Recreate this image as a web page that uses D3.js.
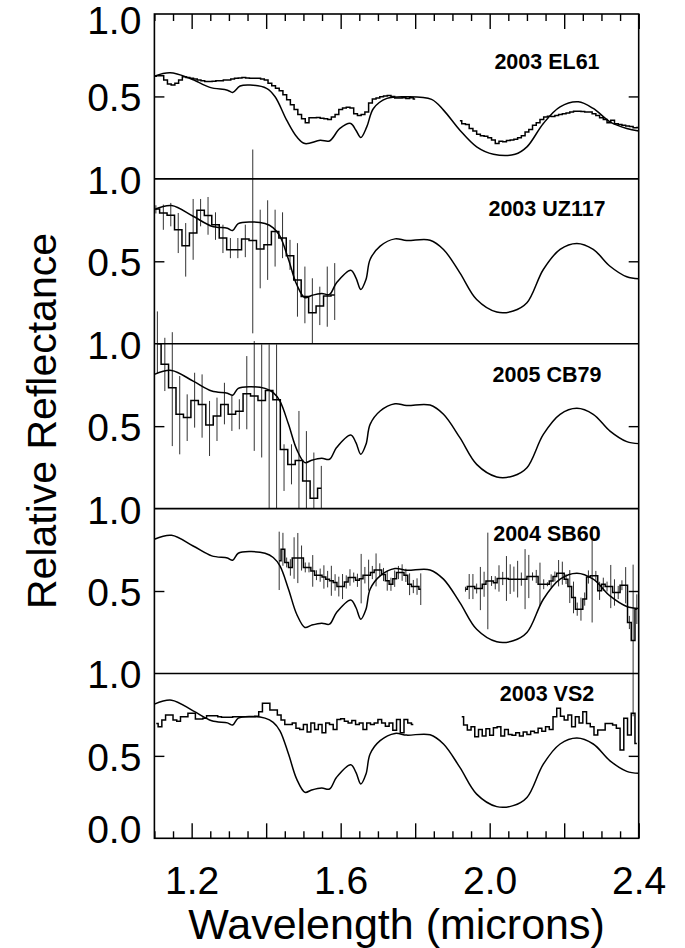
<!DOCTYPE html>
<html><head><meta charset="utf-8">
<script src="https://cdn.jsdelivr.net/npm/d3@7"></script>
<style>body{margin:0;background:#fff}svg{display:block}</style>
</head><body>
<svg id="c" width="685" height="948"></svg>
<script>
// ---------------- DATA ----------------
const panelNames = ["2003 EL61", "2003 UZ117", "2005 CB79", "2004 SB60", "2003 VS2"];
const xMajorTicks = [1.2, 1.4, 1.6, 1.8, 2.0, 2.2, 2.4];
const xMinorTicks = [1.1,1.15,1.25,1.3,1.35,1.45,1.5,1.55,1.65,1.7,1.75,1.85,1.9,1.95,2.05,2.1,2.15,2.25,2.3,2.35];
const xTickLabels = [1.2, 1.6, 2.0, 2.4];

// Model spectrum (panels 2-5)
const modelWl = [1.10,1.146,1.204,1.254,1.296,1.31,1.325,1.357,1.397,1.419,1.437,1.46,1.482,1.504,1.522,1.549,1.57,1.589,1.627,1.641,1.654,1.668,1.679,1.706,1.746,1.777,1.84,1.876,1.92,1.965,2.019,2.063,2.10,2.144,2.189,2.234,2.278,2.323,2.368,2.40];
const modelR  = [0.814,0.838,0.773,0.713,0.70,0.687,0.729,0.739,0.729,0.703,0.652,0.511,0.359,0.279,0.293,0.305,0.299,0.37,0.446,0.40,0.329,0.39,0.511,0.592,0.636,0.626,0.628,0.572,0.43,0.268,0.192,0.198,0.248,0.45,0.572,0.608,0.572,0.47,0.406,0.394];

// Model for 2003 EL61
const elModelWl = [1.10,1.142,1.196,1.249,1.296,1.31,1.33,1.357,1.401,1.424,1.455,1.482,1.504,1.545,1.57,1.598,1.627,1.641,1.654,1.67,1.688,1.724,1.777,1.844,1.876,1.92,1.965,2.01,2.068,2.10,2.144,2.189,2.238,2.278,2.323,2.368,2.40];
const elModelR  = [0.623,0.643,0.609,0.555,0.538,0.524,0.563,0.569,0.549,0.498,0.356,0.255,0.214,0.234,0.23,0.306,0.336,0.295,0.251,0.315,0.427,0.488,0.498,0.482,0.417,0.295,0.194,0.149,0.149,0.194,0.336,0.437,0.467,0.427,0.346,0.306,0.291];

// 2003 EL61 spectrum
const elWl1 = [1.10,1.11,1.12,1.13,1.14,1.15,1.16,1.17,1.18,1.19,1.20,1.21,1.22,1.23,1.24,1.25,1.26,1.27,1.28,1.29,1.30,1.31,1.32,1.33,1.34,1.35,1.36,1.37,1.38,1.39,1.40,1.41,1.42,1.43,1.44,1.45,1.46,1.47,1.48,1.49,1.50,1.51,1.52,1.53,1.54,1.55,1.56,1.57,1.58,1.59,1.60,1.61,1.62,1.63,1.64,1.65,1.66,1.67,1.68,1.69,1.70,1.71,1.72,1.73,1.74,1.75,1.76,1.77,1.78,1.79,1.80];
const elR1  = [0.623,0.625,0.625,0.60,0.575,0.57,0.58,0.60,0.62,0.615,0.61,0.605,0.60,0.595,0.59,0.59,0.592,0.595,0.595,0.60,0.60,0.605,0.61,0.612,0.615,0.612,0.61,0.61,0.61,0.605,0.60,0.58,0.565,0.55,0.535,0.51,0.48,0.45,0.42,0.39,0.365,0.34,0.37,0.37,0.372,0.368,0.365,0.36,0.375,0.39,0.42,0.43,0.435,0.43,0.395,0.385,0.39,0.405,0.46,0.485,0.49,0.498,0.502,0.506,0.50,0.49,0.49,0.492,0.488,0.492,0.485];
const elWl2 = [1.92,1.93,1.94,1.95,1.96,1.97,1.98,1.99,2.00,2.01,2.02,2.03,2.04,2.05,2.06,2.07,2.08,2.09,2.10,2.11,2.12,2.13,2.14,2.15,2.16,2.17,2.18,2.19,2.20,2.21,2.22,2.23,2.24,2.25,2.26,2.27,2.28,2.29,2.30,2.31,2.32,2.33,2.34,2.35,2.36,2.37,2.38,2.39,2.40];
const elR2  = [0.352,0.335,0.33,0.305,0.29,0.27,0.262,0.258,0.25,0.236,0.215,0.228,0.225,0.232,0.235,0.24,0.25,0.262,0.285,0.30,0.325,0.34,0.36,0.375,0.38,0.378,0.385,0.39,0.395,0.40,0.405,0.41,0.41,0.408,0.405,0.405,0.395,0.385,0.37,0.36,0.34,0.355,0.335,0.33,0.325,0.32,0.318,0.31,0.312];

// 2003 UZ117 spectrum with error bar ends
const uzWl = [1.104,1.124,1.144,1.164,1.184,1.204,1.224,1.244,1.264,1.284,1.304,1.324,1.344,1.364,1.384,1.404,1.424,1.444,1.464,1.484,1.504,1.524,1.544,1.564,1.584];
const uzR  = [0.817,0.793,0.78,0.691,0.594,0.671,0.809,0.778,0.722,0.641,0.57,0.57,0.635,0.626,0.574,0.60,0.681,0.641,0.533,0.387,0.286,0.188,0.229,0.29,0.296];
const uzLo = [0.79,0.691,0.712,0.55,0.407,0.509,0.712,0.661,0.63,0.55,0.519,0.519,0.525,0.063,0.336,0.387,0.468,0.519,0.448,0.164,0.124,0.0,0.113,0.103,0.144];
const uzHi = [0.84,0.844,0.854,0.793,0.732,0.878,0.878,0.89,0.797,0.722,0.641,0.641,0.722,1.178,0.813,0.87,0.813,0.797,0.63,0.61,0.468,0.397,0.346,0.468,0.489];

// 2005 CB79 spectrum with error bar ends
const cbWl = [1.108,1.128,1.148,1.168,1.188,1.208,1.228,1.248,1.268,1.288,1.308,1.328,1.348,1.368,1.388,1.408,1.428,1.448,1.468,1.488,1.508,1.528,1.548];
const cbR  = [1.0,0.875,0.733,0.572,0.552,0.656,0.632,0.507,0.562,0.632,0.572,0.59,0.697,0.683,0.656,0.717,0.66,0.359,0.268,0.292,0.168,0.063,0.123];
const cbLo = [0.82,0.713,0.379,0.329,0.41,0.491,0.43,0.319,0.41,0.511,0.471,0.481,0.481,0.35,0.31,0.0,0.0,0.107,0.147,0.0,0.0,0.0,0.0];
const cbHi = [1.196,1.036,1.07,0.804,0.693,0.824,0.814,0.653,0.673,0.763,0.683,0.663,0.925,1.016,0.996,0.996,0.996,0.39,0.39,0.592,0.47,0.34,0.259];

// 2004 SB60 spectrum (values and 1-sigma errors)
const sbWl1 = [1.435,1.445,1.455,1.465,1.475,1.485,1.495,1.505,1.515,1.525,1.535,1.545,1.555,1.565,1.575,1.585,1.595,1.605,1.615,1.625,1.635,1.645,1.655,1.665,1.675,1.685,1.695,1.705,1.715,1.725,1.735,1.745,1.755,1.765,1.775,1.785,1.795,1.805,1.815];
const sbR1  = [0.683,0.753,0.673,0.643,0.70,0.70,0.70,0.643,0.643,0.622,0.596,0.596,0.585,0.572,0.562,0.552,0.527,0.527,0.555,0.582,0.582,0.565,0.575,0.596,0.596,0.612,0.628,0.628,0.60,0.562,0.541,0.575,0.612,0.612,0.595,0.541,0.527,0.527,0.511];
const sbE1  = [0.177,0.10,0.03,0.05,0.126,0.152,0.076,0.03,0.03,0.096,0.03,0.04,0.071,0.05,0.091,0.05,0.06,0.076,0.04,0.05,0.03,0.04,0.15,0.05,0.094,0.04,0.10,0.04,0.04,0.06,0.04,0.05,0.04,0.05,0.04,0.066,0.04,0.05,0.096];
const sbWl2 = [1.935,1.945,1.955,1.965,1.975,1.985,1.995,2.005,2.015,2.025,2.035,2.045,2.055,2.065,2.075,2.085,2.095,2.105,2.115,2.125,2.135,2.145,2.155,2.165,2.175,2.185,2.195,2.205,2.215,2.225,2.235,2.245,2.255,2.265,2.275,2.285,2.295,2.305,2.315,2.325,2.335,2.345,2.355,2.365,2.375,2.385,2.395];
const sbR2  = [0.511,0.527,0.527,0.515,0.515,0.541,0.561,0.561,0.55,0.576,0.576,0.576,0.572,0.572,0.572,0.572,0.572,0.588,0.588,0.588,0.541,0.541,0.541,0.561,0.588,0.608,0.608,0.572,0.527,0.461,0.39,0.39,0.451,0.585,0.592,0.592,0.501,0.541,0.527,0.527,0.491,0.491,0.535,0.535,0.309,0.2,0.39];
const sbE2  = [0.015,0.076,0.076,0.03,0.131,0.076,0.293,0.03,0.04,0.08,0.04,0.136,0.09,0.076,0.111,0.04,0.182,0.131,0.025,0.04,0.131,0.03,0.012,0.04,0.03,0.08,0.07,0.03,0.10,0.096,0.04,0.07,0.04,0.04,0.283,0.03,0.055,0.04,0.03,0.131,0.08,0.04,0.03,0.11,0.04,0.46,0.09];

// 2003 VS2 spectrum
const vsWl1 = [1.105,1.115,1.125,1.135,1.145,1.155,1.165,1.175,1.185,1.195,1.205,1.215,1.225,1.235,1.245,1.255,1.265,1.275,1.285,1.295,1.305,1.315,1.325,1.335,1.345,1.355,1.365,1.375,1.385,1.395,1.405,1.415,1.425,1.435,1.445,1.455,1.465,1.475,1.485,1.495,1.505,1.515,1.525,1.535,1.545,1.555,1.565,1.575,1.585,1.595,1.605,1.615,1.625,1.635,1.645,1.655,1.665,1.675,1.685,1.695,1.705,1.715,1.725,1.735,1.745,1.755,1.765,1.775,1.785,1.795];
const vsR1  = [0.697,0.677,0.718,0.748,0.748,0.718,0.71,0.738,0.738,0.758,0.758,0.724,0.724,0.728,0.744,0.744,0.744,0.738,0.734,0.734,0.734,0.738,0.738,0.738,0.738,0.738,0.738,0.74,0.768,0.819,0.819,0.778,0.778,0.748,0.718,0.691,0.691,0.70,0.668,0.66,0.69,0.645,0.70,0.66,0.69,0.64,0.70,0.69,0.66,0.72,0.725,0.71,0.70,0.715,0.69,0.70,0.66,0.70,0.69,0.70,0.72,0.70,0.68,0.70,0.655,0.72,0.64,0.72,0.70,0.69];
const vsWl2 = [1.925,1.935,1.945,1.955,1.965,1.975,1.985,1.995,2.005,2.015,2.025,2.035,2.045,2.055,2.065,2.075,2.085,2.095,2.105,2.115,2.125,2.135,2.145,2.155,2.165,2.175,2.185,2.195,2.205,2.215,2.225,2.235,2.245,2.255,2.265,2.275,2.285,2.295,2.305,2.315,2.325,2.335,2.345,2.355,2.365,2.375,2.385,2.395];
const vsR2  = [0.738,0.687,0.657,0.677,0.616,0.66,0.62,0.665,0.625,0.67,0.677,0.62,0.66,0.63,0.625,0.64,0.62,0.645,0.63,0.65,0.64,0.667,0.65,0.677,0.66,0.738,0.789,0.74,0.718,0.748,0.677,0.738,0.70,0.768,0.697,0.677,0.626,0.657,0.657,0.697,0.697,0.687,0.667,0.535,0.728,0.626,0.758,0.575];

// ---------------- LAYOUT ----------------
const W = 685, H = 948;
const plotLeft = 154.4, plotRight = 638.7, plotTop = 14, panelH = 164.86;
const labelOffsets = [55, 37, 38, 32, 28];
const font = '"Liberation Sans", Arial, Helvetica, sans-serif';

const zipPts = (wl, r) => wl.map((w, i) => [w, r[i]]);
const panels = [
  { name: panelNames[0], model: zipPts(elModelWl, elModelR), segs: [zipPts(elWl1, elR1), zipPts(elWl2, elR2)], bars: [] },
  { name: panelNames[1], model: zipPts(modelWl, modelR), segs: [zipPts(uzWl, uzR)], bars: uzWl.map((w, i) => [w, uzLo[i], uzHi[i]]) },
  { name: panelNames[2], model: zipPts(modelWl, modelR), segs: [zipPts(cbWl, cbR)], bars: cbWl.map((w, i) => [w, cbLo[i], cbHi[i]]) },
  { name: panelNames[3], model: zipPts(modelWl, modelR), segs: [zipPts(sbWl1, sbR1), zipPts(sbWl2, sbR2)],
    bars: sbWl1.map((w, i) => [w, sbR1[i] - sbE1[i], sbR1[i] + sbE1[i]]).concat(sbWl2.map((w, i) => [w, sbR2[i] - sbE2[i], sbR2[i] + sbE2[i]])) },
  { name: panelNames[4], model: zipPts(modelWl, modelR), segs: [zipPts(vsWl1, vsR1), zipPts(vsWl2, vsR2)], bars: [] }
];

const svg = d3.select('#c');
svg.append('rect').attr('width', W).attr('height', H).attr('fill', '#fff');

const x = d3.scaleLinear().domain([1.1, 2.4]).range([plotLeft, plotRight]);
const plotBottom = plotTop + panelH * panels.length;

function styleAxis(g, fs) {
  g.select('.domain').remove();
  g.selectAll('line').attr('stroke', '#000').attr('stroke-width', 1.4);
  g.selectAll('text').attr('font-family', font).attr('font-size', fs).attr('fill', '#000');
}

panels.forEach((p, i) => {
  const y0 = plotTop + i * panelH;
  const y = d3.scaleLinear().domain([0, 1]).range([y0 + panelH, y0]);
  const g = svg.append('g');

  // error bars (drawn first)
  g.selectAll('line.err').data(p.bars).join('line').attr('class', 'err')
    .attr('x1', d => x(d[0])).attr('x2', d => x(d[0]))
    .attr('y1', d => y(d[1])).attr('y2', d => y(d[2]))
    .attr('stroke', '#333').attr('stroke-width', 1.0);

  // model
  const modelLine = d3.line().x(d => x(d[0])).y(d => y(d[1])).curve(d3.curveCatmullRom.alpha(0.5));
  g.append('path').attr('d', modelLine(p.model)).attr('fill', 'none').attr('stroke', '#000').attr('stroke-width', 1.5);

  // data histograms
  const stepLine = d3.line().x(d => x(d[0])).y(d => y(d[1])).curve(d3.curveStep);
  p.segs.forEach(s => g.append('path').attr('d', stepLine(s)).attr('fill', 'none')
    .attr('stroke', '#000').attr('stroke-width', 1.5));

  // left axis
  const lv = i === panels.length - 1 ? [0, 0.5, 1.0] : [0.5, 1.0];
  const la = svg.append('g').attr('transform', `translate(${plotLeft},0)`)
    .call(d3.axisLeft(y).tickValues(lv).tickSize(-10).tickPadding(13).tickSizeOuter(0).tickFormat(d3.format('.1f')));
  styleAxis(la, 39);
  la.selectAll('.tick').filter(d => d !== 0.5).select('line').remove();
  la.selectAll('text').attr('dy', d => {
    if (i === 0 && d === 1) return '0.51em';
    if (d === 0) return '0.1em';
    return '0.37em';
  });

  // right axis
  const ra = svg.append('g').attr('transform', `translate(${plotRight},0)`)
    .call(d3.axisRight(y).tickValues([0.5]).tickSize(-10).tickSizeOuter(0).tickFormat(''));
  styleAxis(ra, 39);

  // panel separator
  if (i > 0) {
    svg.append('line').attr('x1', plotLeft).attr('x2', plotRight).attr('y1', y(1)).attr('y2', y(1))
      .attr('stroke', '#000').attr('stroke-width', 1.6);
  }

  // panel label
  svg.append('text').attr('x', 547).attr('y', y0 + labelOffsets[i])
    .attr('text-anchor', 'middle').attr('font-family', font).attr('font-weight', 'bold')
    .attr('font-size', 21.5).text(p.name);
});

// top x axis ticks
const topMaj = svg.append('g').attr('transform', `translate(0,${plotTop})`)
  .call(d3.axisTop(x).tickValues(xMajorTicks).tickSize(-15).tickSizeOuter(0).tickFormat(''));
styleAxis(topMaj, 39);
const topMin = svg.append('g').attr('transform', `translate(0,${plotTop})`)
  .call(d3.axisTop(x).tickValues(xMinorTicks).tickSize(-7).tickSizeOuter(0).tickFormat(''));
styleAxis(topMin, 39);

// bottom x axis ticks and labels
const botMaj = svg.append('g').attr('transform', `translate(0,${plotBottom})`)
  .call(d3.axisBottom(x).tickValues(xMajorTicks).tickSize(-15).tickPadding(28).tickSizeOuter(0)
    .tickFormat(d => xTickLabels.some(v => Math.abs(v - d) < 1e-9) ? d3.format('.1f')(d) : ''));
styleAxis(botMaj, 39);
const botMin = svg.append('g').attr('transform', `translate(0,${plotBottom})`)
  .call(d3.axisBottom(x).tickValues(xMinorTicks).tickSize(-7).tickSizeOuter(0).tickFormat(''));
styleAxis(botMin, 39);

// frame
svg.append('rect').attr('x', plotLeft).attr('y', plotTop)
  .attr('width', plotRight - plotLeft).attr('height', plotBottom - plotTop)
  .attr('fill', 'none').attr('stroke', '#000').attr('stroke-width', 1.6);

// axis titles
svg.append('text').attr('x', (plotLeft + plotRight) / 2).attr('y', 939)
  .attr('text-anchor', 'middle').attr('font-family', font).attr('font-size', 43)
  .text('Wavelength (microns)');
svg.append('text').attr('transform', `translate(56,${421}) rotate(-90)`)
  .attr('text-anchor', 'middle').attr('font-family', font).attr('font-size', 41)
  .text('Relative Reflectance');
</script>
</body></html>
